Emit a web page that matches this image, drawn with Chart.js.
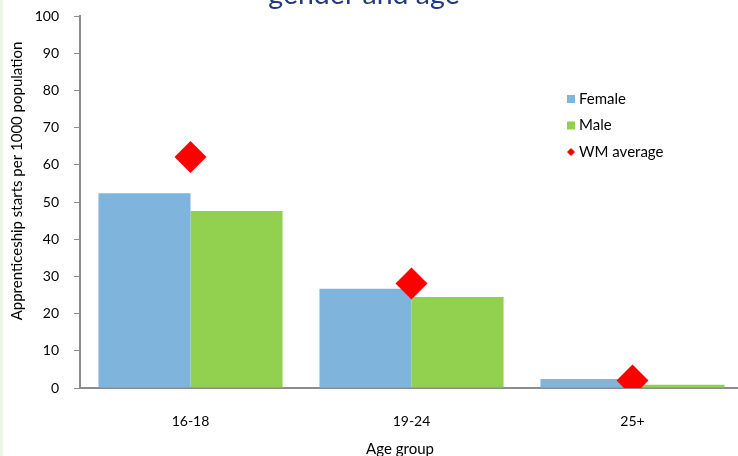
<!DOCTYPE html>
<html>
<head>
<meta charset="utf-8">
<script src="https://cdn.jsdelivr.net/npm/chart.js@4.4.0/dist/chart.umd.min.js"></script>
<style>
html, body { margin: 0; padding: 0; background: #fff; overflow: hidden; }
body { width: 738px; height: 456px; position: relative; }
#edge { position: absolute; left: 0; top: 0; width: 3px; height: 456px; background: #eef6e6; z-index: 2; }
#myChart { position: absolute; left: -15px; top: -30px; }
</style>
</head>
<body>
<div id="edge"></div>
<canvas id="myChart" width="776" height="488"></canvas>
<script>
// data
var ageGroups = ['16-18', '19-24', '25+'];
var female = [52.4, 26.7, 2.4];
var male = [47.6, 24.5, 0.9];
var wmAverage = [62.1, 28.1, 2.0];
var yTicks = [0, 10, 20, 30, 40, 50, 60, 70, 80, 90, 100];

var yTitle = 'Apprenticeship starts per 1000 population';
var xTitle = 'Age group';

var fontFamily = 'Lato, "Open Sans", sans-serif';

// legend drawn inside the plot, top right
var insideLegend = {
    id: 'insideLegend',
    afterDraw: function(chart) {
        var ctx = chart.ctx;
        var x = 582, y = 129;
        ctx.save();
        ctx.font = '15px ' + fontFamily;
        ctx.textBaseline = 'middle';
        chart.data.datasets.forEach(function(ds, i) {
            var cy = y + i * 26.5;
            ctx.fillStyle = ds.backgroundColor;
            if (ds.type === 'line') {
                ctx.beginPath();
                ctx.moveTo(x + 4, cy - 4);
                ctx.lineTo(x + 8, cy);
                ctx.lineTo(x + 4, cy + 4);
                ctx.lineTo(x, cy);
                ctx.closePath();
                ctx.fill();
            } else {
                ctx.fillRect(x, cy - 4, 8, 8);
            }
            ctx.fillStyle = '#000';
            ctx.fillText(ds.label, x + 12, cy);
        });
        ctx.restore();
    }
};

// axis titles, placed like the original (not centred on the plot)
var axisTitles = {
    id: 'axisTitles',
    afterDraw: function(chart) {
        var ctx = chart.ctx;
        ctx.save();
        ctx.fillStyle = '#000';
        ctx.textAlign = 'center';
        ctx.textBaseline = 'middle';
        ctx.font = '15px ' + fontFamily;
        ctx.fillText(xTitle, 415, 479);
        ctx.translate(32, 211);
        ctx.rotate(-Math.PI / 2);
        ctx.fillText(yTitle, 0, 0);
        ctx.restore();
    }
};

var ctx = document.getElementById('myChart').getContext('2d');
var myChart = new Chart(ctx, {
    type: 'bar',
    data: {
        labels: ageGroups,
        datasets: [{
            label: 'Female',
            data: female,
            backgroundColor: '#7fb5dd',
            categoryPercentage: 0.833,
            barPercentage: 1.0,
            order: 2
        },
        {
            label: 'Male',
            data: male,
            backgroundColor: '#92d050',
            categoryPercentage: 0.833,
            barPercentage: 1.0,
            order: 2
        },
        {
            type: 'line',
            label: 'WM average',
            data: wmAverage,
            backgroundColor: '#ff0000',
            borderColor: '#ff0000',
            showLine: false,
            pointStyle: 'rectRot',
            pointRadius: 16,
            pointBorderWidth: 0,
            order: 1
        }]
    },
    options: {
        responsive: false,
        animation: false,
        devicePixelRatio: 1,
        layout: { padding: { left: 0, right: 18, top: 0, bottom: 0 } },
        plugins: {
            legend: { display: false },
            tooltip: { enabled: false },
            title: {
                display: true,
                text: 'gender and age',
                color: '#1f3c80',
                font: { family: fontFamily, size: 28.5, weight: 'normal' },
                padding: { top: 8, bottom: 4 }
            }
        },
        scales: {
            x: {
                grid: { display: false, tickLength: 23 },
                border: { color: '#8c8c8c', width: 2 },
                ticks: { color: '#000', font: { family: fontFamily, size: 14 }, padding: 2 },
                afterFit: function(scale) {
                    scale.height = 70;
                }
            },
            y: {
                min: 0,
                max: 100,
                afterBuildTicks: function(scale) {
                    scale.ticks = yTicks.map(function(v) { return { value: v }; });
                },
                afterFit: function(scale) {
                    scale.width = 95;
                },
                grid: { drawOnChartArea: false, color: '#8c8c8c', tickLength: 6, lineWidth: 1 },
                border: { color: '#8c8c8c', width: 2 },
                ticks: { color: '#000', font: { family: fontFamily, size: 14 }, padding: 15 }
            }
        }
    },
    plugins: [insideLegend, axisTitles]
});
</script>
</body>
</html>
